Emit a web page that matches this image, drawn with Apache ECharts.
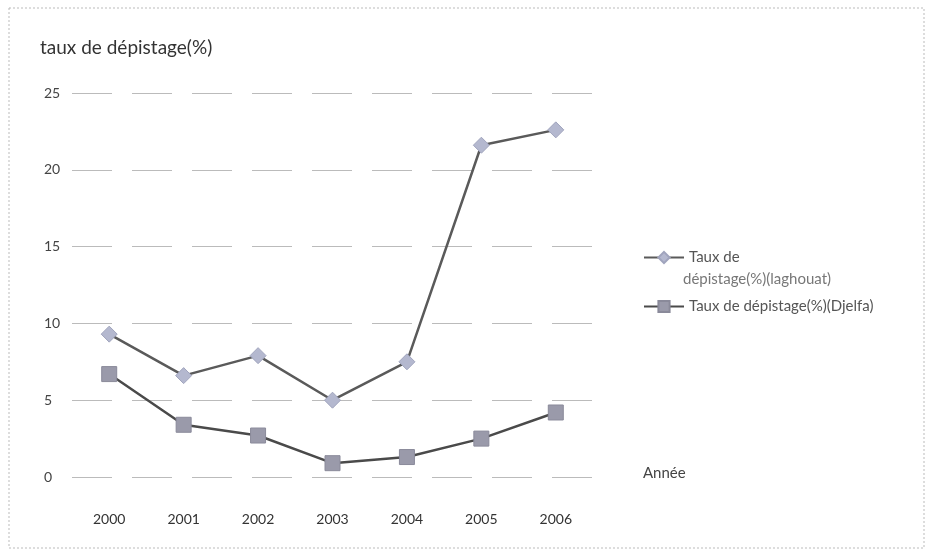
<!DOCTYPE html>
<html>
<head>
<meta charset="utf-8">
<script src="https://cdn.jsdelivr.net/npm/echarts@6/dist/echarts.min.js"></script>
<style>
  html, body { margin: 0; padding: 0; background: #fff; }
  #chart { width: 933px; height: 551px; }
</style>
</head>
<body>
<div id="chart"></div>
<script>
// données
const annees = ['2000', '2001', '2002', '2003', '2004', '2005', '2006'];
const laghouat = [9.3, 6.6, 7.9, 5.0, 7.5, 21.6, 22.6];
const djelfa = [6.7, 3.4, 2.7, 0.9, 1.3, 2.5, 4.2];
const nomLaghouat = 'Taux de dépistage(%)(laghouat)';
const nomDjelfa = 'Taux de dépistage(%)(Djelfa)';

const police = 'Lato, "Open Sans", sans-serif';
const chart = echarts.init(document.getElementById('chart'), null, { renderer: 'canvas' });

chart.setOption({
  animation: false,
  backgroundColor: '#ffffff',
  textStyle: { fontFamily: police, color: '#333' },
  graphic: [
    // cadre pointillé autour du graphique
    { type: 'rect', shape: { x: 9, y: 8, width: 915, height: 540 },
      style: { fill: 'none', stroke: '#bbb', lineWidth: 1, lineDash: [2, 2] } },
    { type: 'text', left: 40, top: 38,
      style: { text: 'taux de dépistage(%)', fontSize: 19, fontFamily: police, fill: '#333' } },
    { type: 'text', left: 643, top: 466,
      style: { text: 'Année', fontSize: 15, fontFamily: police, fill: '#444' } },
    // deuxième ligne de la légende Laghouat
    { type: 'text', left: 683, top: 272,
      style: { text: 'dépistage(%)(laghouat)', fontSize: 15, fontFamily: police, fill: '#777' } }
  ],
  grid: { left: 72, right: 340, top: 93, bottom: 74 },
  legend: {
    orient: 'vertical',
    left: 638,
    top: 245,
    itemWidth: 40,
    itemHeight: 14,
    itemGap: 34,
    textStyle: { fontSize: 15, color: '#555', fontFamily: police },
    formatter: function (n) {
      return n === nomLaghouat ? 'Taux de' : n;
    },
    data: [nomLaghouat, nomDjelfa]
  },
  xAxis: {
    type: 'category',
    data: annees,
    boundaryGap: true,
    axisLine: { show: false },
    axisTick: { show: false },
    axisLabel: { fontSize: 14, color: '#333', margin: 35 },
    splitLine: { show: false }
  },
  yAxis: {
    type: 'value',
    min: 0,
    max: 25,
    interval: 5,
    axisLine: { show: false },
    axisTick: { show: false },
    axisLabel: { fontSize: 14, color: '#444', margin: 28, align: 'left',
      formatter: v => String(v) },
    splitLine: { lineStyle: { color: '#bbb', type: [40, 20], width: 1 } }
  },
  series: [
    {
      name: nomLaghouat,
      type: 'line',
      data: laghouat,
      symbol: 'diamond',
      symbolSize: 16,
      lineStyle: { color: '#5a5a5a', width: 2.5 },
      itemStyle: { color: '#b4b8cf', borderColor: '#a0a4bd', borderWidth: 1 }
    },
    {
      name: nomDjelfa,
      type: 'line',
      data: djelfa,
      symbol: 'rect',
      symbolSize: 15,
      lineStyle: { color: '#4a4a4a', width: 2.5 },
      itemStyle: { color: '#9a9aaa', borderColor: '#8a8a9a', borderWidth: 1 }
    }
  ]
});
</script>
</body>
</html>
